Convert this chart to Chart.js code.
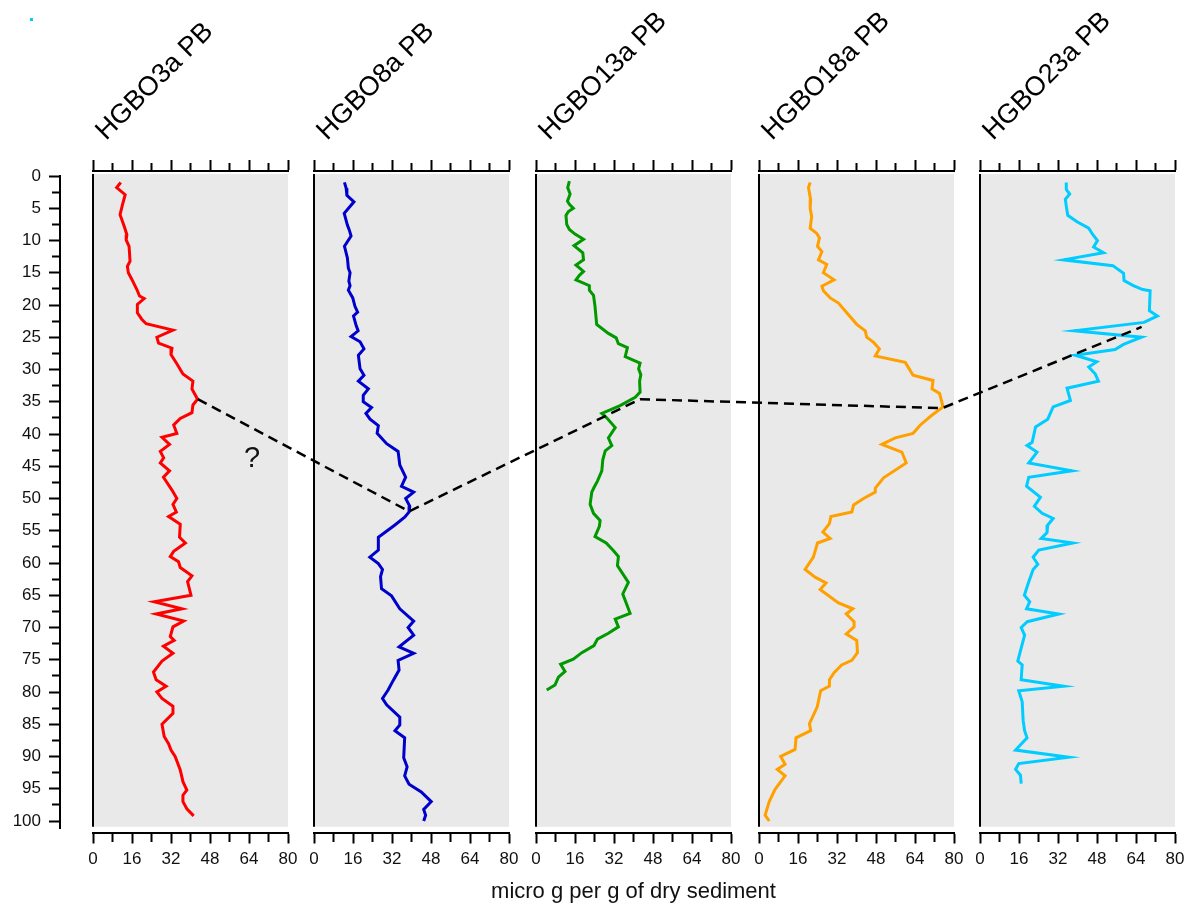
<!DOCTYPE html>
<html><head><meta charset="utf-8">
<script src="https://cdn.jsdelivr.net/npm/chart.js@4.4.1/dist/chart.umd.min.js"></script>
<style>
html,body{margin:0;padding:0;background:#fff;}
#wrap{position:relative;width:1189px;height:907px;overflow:hidden;background:#fff;}
#wrap canvas{position:absolute;top:0;}
</style></head><body><div id="wrap"></div>
<script>
// ---------------- data ----------------
const coreNames = ['HGBO3a PB', 'HGBO8a PB', 'HGBO13a PB', 'HGBO18a PB', 'HGBO23a PB'];
const xAxisTitle = 'micro g per g of dry sediment';
const xTickValues = [0, 8, 16, 24, 32, 40, 48, 56, 64, 72, 80];
const depthTickValues = [0,2.5,5,7.5,10,12.5,15,17.5,20,22.5,25,27.5,30,32.5,35,37.5,40,42.5,45,47.5,50,52.5,55,57.5,60,62.5,65,67.5,70,72.5,75,77.5,80,82.5,85,87.5,90,92.5,95,97.5,100];

// [depth, Pb] pairs
const hgbo3a = [[1.0,11.4],[1.8,9.7],[2.9,13.2],[4.3,12.2],[6.0,11.1],[7.8,12.8],[9.1,13.9],[9.9,13.6],[10.9,14.8],[13.2,15.2],[14.0,14.1],[15.0,14.5],[16.0,15.9],[17.6,18.0],[18.6,19.1],[19.0,21.0],[19.9,18.2],[21.2,18.2],[22.2,20.0],[22.9,21.8],[23.9,32.8],[25.0,26.2],[25.9,26.9],[26.7,32.4],[27.7,32.0],[29.1,34.4],[30.7,36.9],[31.8,41.0],[33.0,40.6],[34.6,42.9],[35.5,41.0],[36.7,40.6],[37.6,35.8],[38.6,33.1],[39.9,34.4],[40.5,28.3],[41.6,31.4],[42.7,27.6],[43.7,29.0],[44.5,27.6],[45.7,31.4],[46.7,28.9],[48.7,32.4],[50.0,34.4],[50.9,32.8],[52.1,34.2],[52.8,31.0],[54.0,35.8],[56.0,35.5],[56.9,37.9],[58.2,33.1],[59.0,31.7],[59.8,35.1],[60.7,35.8],[62.0,40.6],[62.9,38.8],[65.0,40.2],[66.0,25.1],[67.1,36.5],[67.9,25.9],[69.0,37.2],[69.9,32.8],[71.4,31.7],[72.0,33.3],[72.9,28.9],[74.0,32.8],[75.2,28.3],[76.9,24.8],[78.1,25.9],[79.1,30.0],[80.0,26.2],[81.0,28.3],[82.2,32.8],[83.3,32.8],[85.0,28.3],[86.9,29.2],[88.0,31.0],[89.0,32.0],[90.0,33.7],[92.1,35.8],[93.9,36.9],[95.2,38.5],[96.0,36.9],[97.0,36.9],[98.1,38.5],[99.2,41.3]];
const hgbo8a = [[1.0,12.5],[1.9,13.2],[3.0,13.5],[4.0,16.4],[5.8,12.4],[7.6,13.7],[8.4,14.5],[9.3,15.2],[10.9,12.5],[12.7,13.7],[14.3,14.1],[15.0,14.8],[16.3,14.3],[17.0,14.8],[17.7,14.1],[18.9,15.9],[20.2,16.8],[21.1,17.9],[21.7,16.2],[23.2,17.3],[24.0,18.1],[24.9,15.2],[25.7,18.9],[26.8,20.5],[27.8,18.2],[29.9,18.9],[30.9,20.5],[31.8,18.2],[33.0,22.3],[34.0,20.2],[35.0,20.2],[35.9,23.6],[36.8,21.3],[37.7,23.0],[38.7,26.4],[39.9,25.9],[41.5,29.8],[42.7,34.5],[44.8,35.2],[46.7,37.6],[48.1,35.9],[49.0,40.9],[50.0,37.6],[51.2,39.3],[52.1,39.0],[52.9,37.2],[54.1,33.2],[56.0,26.4],[58.0,26.4],[59.1,22.9],[60.1,26.4],[61.0,28.1],[62.1,27.3],[64.0,27.7],[65.1,31.8],[67.1,35.2],[69.0,40.9],[70.0,38.6],[71.2,40.9],[73.0,34.9],[74.0,40.9],[75.1,34.5],[76.6,34.9],[78.2,32.5],[79.7,30.4],[81.0,28.1],[82.0,29.8],[83.9,35.2],[85.1,35.2],[86.0,33.2],[87.1,37.2],[90.2,36.8],[91.6,38.2],[93.0,37.2],[94.3,39.0],[95.5,44.0],[97.0,48.1],[98.2,45.0],[99.1,45.8],[100.0,45.0]];
const hgbo13a = [[0.8,13.7],[1.8,13.0],[2.8,14.0],[3.9,12.9],[4.4,13.7],[5.0,15.3],[5.5,13.3],[6.1,12.3],[7.5,12.6],[8.3,13.7],[9.0,16.0],[9.8,19.5],[10.8,15.6],[11.9,19.2],[13.0,19.5],[13.8,16.4],[14.8,19.5],[15.4,17.8],[16.1,16.4],[17.0,21.9],[17.7,21.9],[18.5,23.6],[20.2,24.2],[23.0,24.9],[24.4,29.7],[25.1,32.9],[26.0,33.8],[26.6,37.5],[28.0,36.6],[29.0,42.7],[29.9,42.1],[30.8,43.0],[31.8,42.5],[33.5,42.7],[34.3,40.7],[35.6,34.5],[36.8,27.0],[37.5,29.0],[39.0,32.5],[40.6,29.7],[41.8,31.1],[42.6,28.4],[44.0,27.4],[45.7,27.0],[47.3,25.2],[48.3,23.8],[49.0,22.9],[50.9,22.2],[52.3,23.6],[53.4,26.3],[54.3,26.0],[55.9,24.2],[56.9,28.8],[58.1,31.8],[59.0,33.8],[60.4,33.4],[63.0,37.9],[64.8,35.6],[66.2,37.0],[67.8,38.6],[68.7,32.5],[69.9,33.8],[70.9,29.7],[71.8,25.2],[72.8,23.8],[73.9,18.8],[74.9,15.3],[75.7,10.1],[76.8,11.9],[77.7,9.2],[78.9,7.8],[79.7,4.4]];
const hgbo18a = [[1.0,21.0],[1.8,20.3],[3.7,21.2],[5.0,21.0],[6.3,21.6],[8.1,21.0],[8.9,23.7],[9.6,24.8],[10.9,24.0],[11.7,25.8],[13.0,24.4],[13.7,27.8],[15.0,26.4],[16.1,30.8],[17.1,25.8],[17.8,26.4],[18.9,29.2],[19.7,32.6],[21.2,36.0],[23.0,40.1],[24.0,43.6],[25.0,44.2],[25.8,47.0],[26.8,49.4],[27.9,47.7],[28.9,60.0],[30.9,63.2],[31.7,71.4],[33.0,71.0],[33.7,74.1],[35.8,75.5],[37.1,70.9],[38.6,66.2],[39.9,63.2],[40.6,55.9],[41.6,50.4],[42.8,58.6],[44.5,60.4],[46.8,51.1],[48.4,47.7],[49.0,47.7],[50.0,42.9],[51.0,38.8],[52.1,38.1],[52.8,29.5],[53.9,28.9],[55.2,26.2],[56.2,29.2],[56.9,24.0],[59.1,22.3],[61.0,18.9],[62.2,23.0],[63.1,27.5],[64.1,25.1],[66.2,32.6],[67.1,38.5],[67.9,35.8],[69.1,39.0],[69.9,39.0],[71.0,35.8],[72.0,40.1],[73.9,40.4],[75.1,38.1],[75.8,33.9],[77.0,30.8],[78.1,28.9],[79.1,28.9],[79.8,25.3],[82.3,23.9],[84.9,20.7],[86.0,21.2],[87.1,15.2],[88.9,14.8],[90.0,8.9],[91.2,10.7],[92.0,7.5],[93.0,10.7],[95.1,6.6],[97.0,4.2],[99.1,2.5],[100.0,4.2]];
const hgbo23a = [[1.0,35.4],[2.1,35.4],[2.8,36.8],[3.6,35.0],[4.7,35.4],[6.1,36.0],[7.1,39.8],[8.1,44.6],[9.1,46.3],[10.0,48.2],[11.0,46.6],[11.9,50.7],[13.0,34.3],[13.9,54.5],[15.1,58.9],[16.2,59.1],[17.0,62.9],[17.6,66.8],[17.8,69.8],[20.9,69.5],[21.7,72.8],[22.7,67.3],[24.0,38.7],[25.0,66.3],[26.1,58.9],[26.9,55.4],[27.8,39.1],[28.8,47.9],[29.6,44.6],[30.7,47.3],[31.8,48.6],[32.9,35.7],[34.8,37.1],[35.8,30.0],[37.7,27.8],[38.9,22.8],[41.3,21.4],[41.8,19.3],[42.8,23.4],[44.5,20.0],[45.7,37.7],[46.7,20.0],[48.1,19.1],[49.8,24.8],[51.2,22.3],[52.3,25.5],[53.1,30.0],[54.1,27.8],[55.3,27.5],[56.2,25.1],[56.9,38.1],[58.0,24.1],[59.1,21.8],[60.2,23.7],[61.0,21.8],[62.9,20.0],[65.0,18.2],[66.0,20.4],[67.1,19.1],[67.9,32.3],[69.1,19.4],[70.0,16.9],[71.2,18.3],[75.2,15.5],[75.8,17.3],[78.1,16.9],[79.1,34.3],[79.8,15.9],[81.5,17.3],[84.4,17.7],[86.0,18.3],[87.1,19.3],[89.0,14.6],[90.1,36.4],[91.1,15.9],[92.0,14.6],[92.9,16.6],[94.2,16.9]];

// dashed correlation line: core index, Pb value, depth
const corrCore = [0, 1, 2, 3, 4];
const corrPb = [43.0, 39.0, 42.7, 75.3, 66.5];
const corrDepth = [34.6, 52.0, 34.6, 36.0, 23.4];
const questionMark = {core: 0, pb: 65.3, depth: 43.9, text: '?'};

// ---------------- layout / style ----------------
const FONT = "'Liberation Sans', Arial, Helvetica, sans-serif";
Chart.defaults.font.family = FONT;
const series = [hgbo3a, hgbo8a, hgbo13a, hgbo18a, hgbo23a];
const colors = ['#ff0000', '#0000cc', '#009900', '#ffa000', '#00ccff'];
const panelLeft = [93, 314, 536, 758.5, 979.5];
const panelWidth = 195;
const PAD = 60;
const H = 907;
const Y_TOP = 171, Y_BOTTOM = 832.5, Y0 = 176, PXU = 6.45;
const yMin = -(Y0 - Y_TOP) / PXU;
const yMax = (Y_BOTTOM - Y0) / PXU;
const X2H = 12, XH = 73.7;
const AXIS_TITLE_PANEL = 2, AXIS_TITLE_Y = 892;

const wrap = document.getElementById('wrap');
function makeCanvas(left, width) {
  const c = document.createElement('canvas');
  c.width = width; c.height = H;
  c.style.left = left + 'px'; c.style.width = width + 'px'; c.style.height = H + 'px';
  wrap.appendChild(c);
  return c;
}

const panelDecor = {
  id: 'panelDecor',
  beforeDatasetsDraw(chart, args, opts) {
    const {ctx, scales: {x, y}} = chart;
    const l = x.getPixelForValue(0), r = x.getPixelForValue(80);
    const t = y.getPixelForValue(-0.3), b = y.getPixelForValue(100.9);
    ctx.save();
    ctx.fillStyle = '#e9e9e9';
    ctx.fillRect(l, t, r - l, b - t);
    ctx.strokeStyle = '#000'; ctx.lineWidth = 2;
    ctx.beginPath(); ctx.moveTo(l, t); ctx.lineTo(l, b); ctx.stroke();
    ctx.restore();
  },
  afterDraw(chart, args, opts) {
    const {ctx, chartArea} = chart;
    ctx.save();
    ctx.translate(chartArea.left + 13, 141);
    ctx.rotate(-Math.PI / 4);
    ctx.font = '27px ' + FONT;
    ctx.fillStyle = '#000';
    ctx.textBaseline = 'alphabetic';
    ctx.textAlign = 'left';
    ctx.fillText(opts.text, 0, 0);
    ctx.restore();
    if (opts.axisTitle) {
      ctx.save();
      ctx.font = '22px ' + FONT;
      ctx.fillStyle = '#111';
      ctx.textAlign = 'center';
      ctx.textBaseline = 'middle';
      ctx.fillText(opts.axisTitle, (chartArea.left + chartArea.right) / 2, AXIS_TITLE_Y);
      ctx.restore();
    }
  }
};

const tickFont = {size: 17, family: FONT};
const charts = [];

// left depth axis
const axisCanvas = makeCanvas(0, 100);
new Chart(axisCanvas, {
  type: 'scatter',
  data: {datasets: []},
  options: {
    responsive: false, animation: false, devicePixelRatio: 1,
    layout: {padding: {left: 0, right: 0, top: Y0, bottom: H - 828}},
    plugins: {legend: {display: false}, tooltip: {enabled: false}},
    scales: {
      x: {display: false, min: 0, max: 1},
      y: {
        reverse: true, min: 0, max: (828 - Y0) / PXU,
        afterFit(s) { s.width = 60; },
        afterBuildTicks(s) { s.ticks = depthTickValues.map(v => ({value: v})); },
        ticks: {autoSkip: false, padding: 8, color: '#111', font: tickFont,
          callback: v => (v % 5 === 0 ? String(v) : '')},
        grid: {drawOnChartArea: false, tickLength: 11, tickWidth: 2, tickColor: '#000',
          tickBorderDash: c => (c.tick && c.tick.value % 5 !== 0 ? [0, 3, 30] : [])},
        border: {display: true, color: '#000', width: 2}
      }
    }
  }
});

coreNames.forEach((name, i) => {
  const cv = makeCanvas(panelLeft[i] - PAD, panelWidth + 2 * PAD);
  const ch = new Chart(cv, {
    type: 'scatter',
    data: {datasets: [{
      data: series[i].map(p => ({x: p[1], y: p[0]})),
      showLine: true, borderColor: colors[i], borderWidth: 3, pointRadius: 0,
      tension: 0, fill: false, borderJoinStyle: 'miter', xAxisID: 'x', yAxisID: 'y'
    }]},
    options: {
      responsive: false, animation: false, devicePixelRatio: 1,
      layout: {padding: {left: PAD, right: PAD, top: Y_TOP - X2H, bottom: H - Y_BOTTOM - XH}},
      plugins: {legend: {display: false}, tooltip: {enabled: false},
        panelDecor: {text: name, axisTitle: i === AXIS_TITLE_PANEL ? xAxisTitle : null}},
      scales: {
        x: {
          type: 'linear', position: 'bottom', min: 0, max: 80,
          afterFit(s) { s.height = XH; },
          afterBuildTicks(s) { s.ticks = xTickValues.map(v => ({value: v})); },
          ticks: {autoSkip: false, maxRotation: 0, padding: 6, color: '#111', font: tickFont,
            callback: v => (v % 16 === 0 ? String(v) : '')},
          grid: {drawOnChartArea: false, tickLength: 11, tickWidth: 2, tickColor: '#000',
            tickBorderDash: c => (c.tick && c.tick.value % 16 !== 0 ? [8, 30] : [])},
          border: {display: true, color: '#000', width: 2}
        },
        x2: {
          type: 'linear', position: 'top', min: 0, max: 80,
          afterFit(s) { s.height = X2H; },
          afterBuildTicks(s) { s.ticks = xTickValues.map(v => ({value: v})); },
          ticks: {display: false},
          grid: {drawOnChartArea: false, tickLength: 11, tickWidth: 2, tickColor: '#000',
            tickBorderDash: c => (c.tick && c.tick.value % 16 !== 0 ? [0, 3, 30] : [])},
          border: {display: true, color: '#000', width: 2}
        },
        y: {display: false, reverse: true, min: yMin, max: yMax}
      }
    },
    plugins: [panelDecor]
  });
  charts.push({chart: ch, left: panelLeft[i] - PAD});
});

// overlay: dashed correlation line and annotations, positioned with the charts' scales
const ov = makeCanvas(0, 1189);
ov.style.pointerEvents = 'none';
const octx = ov.getContext('2d');
function pagePoint(core, pb, depth) {
  const c = charts[core];
  return [c.left + c.chart.scales.x.getPixelForValue(pb), c.chart.scales.y.getPixelForValue(depth)];
}
octx.save();
octx.strokeStyle = '#000';
octx.lineWidth = 2.5;
octx.setLineDash([10, 6]);
octx.beginPath();
corrCore.forEach((core, k) => {
  const [px, py] = pagePoint(core, corrPb[k], corrDepth[k]);
  if (k === 0) octx.moveTo(px, py); else octx.lineTo(px, py);
});
octx.stroke();
octx.restore();
const qp = pagePoint(questionMark.core, questionMark.pb, questionMark.depth);
octx.font = '29px ' + FONT;
octx.fillStyle = '#111';
octx.textAlign = 'center';
octx.textBaseline = 'middle';
octx.fillText(questionMark.text, qp[0], qp[1]);
octx.fillStyle = '#00ccff';
octx.fillRect(30, 18, 3, 3);
</script></body></html>
